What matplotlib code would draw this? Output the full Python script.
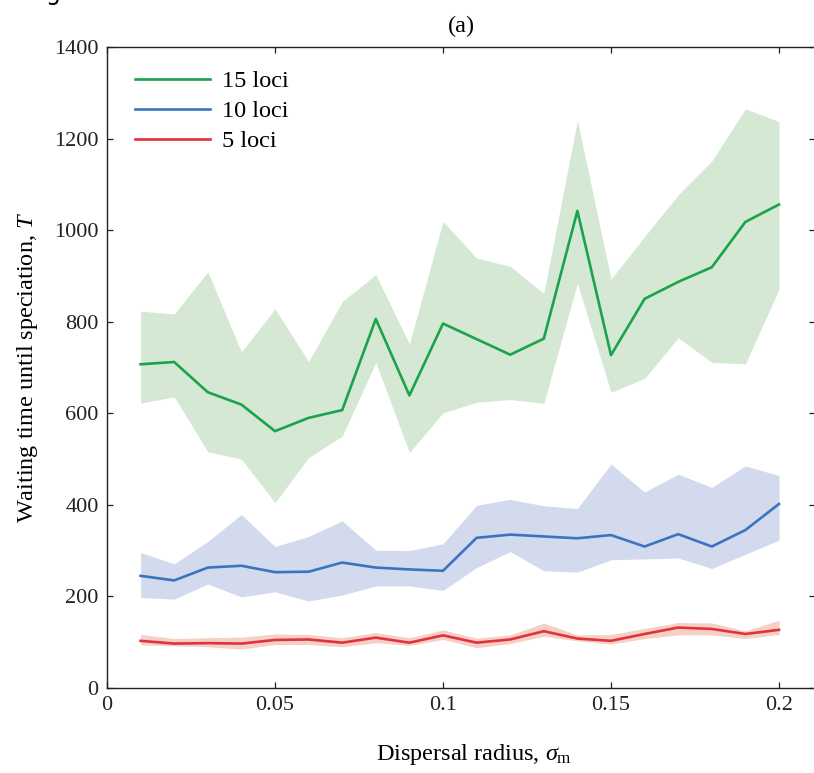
import matplotlib
matplotlib.use('Agg')
import matplotlib.pyplot as plt

plt.rcParams['font.family'] = ['Liberation Serif', 'DejaVu Serif']
plt.rcParams['mathtext.fontset'] = 'custom'
plt.rcParams['mathtext.rm'] = 'Liberation Serif'
plt.rcParams['mathtext.it'] = 'Liberation Serif:italic'

# dispersal radius values
sigma = [0.01, 0.02, 0.03, 0.04, 0.05, 0.06, 0.07, 0.08, 0.09, 0.10,
         0.11, 0.12, 0.13, 0.14, 0.15, 0.16, 0.17, 0.18, 0.19, 0.20]

# 15 loci
green_mean = [707, 712, 646, 619, 561, 590, 607, 806, 639, 796,
              762, 728, 763, 1042, 727, 850, 887, 919, 1018, 1056]
green_hi = [823, 817, 909, 734, 828, 713, 844, 903, 751, 1019,
            939, 921, 862, 1240, 893, 986, 1077, 1151, 1265, 1237]
green_lo = [622, 636, 516, 500, 405, 503, 550, 711, 514, 601,
            624, 630, 622, 884, 646, 676, 765, 711, 708, 871]

# 10 loci
blue_mean = [245, 235, 263, 267, 253, 254, 274, 263, 259, 256,
             328, 335, 331, 327, 334, 309, 336, 309, 345, 402]
blue_hi = [296, 271, 320, 379, 309, 331, 365, 301, 300, 315,
           399, 412, 398, 392, 489, 428, 467, 438, 485, 464]
blue_lo = [198, 194, 227, 199, 210, 190, 203, 223, 223, 213,
           263, 298, 256, 253, 280, 282, 284, 261, 292, 323]

# 5 loci
red_mean = [103, 97, 98, 97, 105, 106, 99, 110, 99, 115,
            99, 106, 124, 108, 103, 118, 132, 129, 118, 127]
red_hi = [117, 108, 110, 111, 118, 117, 110, 121, 110, 127,
          109, 116, 142, 116, 117, 130, 143, 142, 125, 148]
red_lo = [94, 92, 90, 85, 95, 95, 90, 99, 93, 106,
          88, 97, 113, 103, 96, 108, 116, 116, 108, 117]

xticks = [0, 0.05, 0.1, 0.15, 0.2]
xticklabels = ['0', '0.05', '0.1', '0.15', '0.2']
yticks = [0, 200, 400, 600, 800, 1000, 1200, 1400]

fig = plt.figure(figsize=(8.14, 7.73), dpi=100)
ax = fig.add_axes([107/814, 1 - 688/773, (815 - 107)/814, (688 - 47)/773])

ax.fill_between(sigma, green_lo, green_hi, color='#d5e8d4', lw=0)
ax.fill_between(sigma, blue_lo, blue_hi, color='#d3daed', lw=0)
ax.fill_between(sigma, red_lo, red_hi, color='#f6d0c6', lw=0)
ax.plot(sigma, green_mean, color='#1ba34b', lw=1.9, label='15 loci')
ax.plot(sigma, blue_mean, color='#3a74c0', lw=1.9, label='10 loci')
ax.plot(sigma, red_mean, color='#e0333a', lw=1.9, label='5 loci')

ax.set_xlim(0, (815 - 107) / 3360)
ax.set_ylim(0, 1400)
ax.set_xticks(xticks)
ax.set_xticklabels(xticklabels)
ax.set_yticks(yticks)
ax.tick_params(direction='in', length=4.5, width=0.9, top=True, right=True,
               labelsize=16, colors='#222222', pad=6)
for s in ax.spines.values():
    s.set_linewidth(1.0)
    s.set_color('#222222')

ax.set_ylabel('Waiting time until speciation, $T$', fontsize=17.5, labelpad=10)
ax.set_xlabel(r'Dispersal radius, $\sigma_{\mathrm{m}}$', fontsize=17.5)
ax.xaxis.set_label_coords((474 - 107) / (815 - 107), -0.085)
ax.text(0.5, 1 + 21 / 641, '(a)', fontsize=17.5, ha='center', va='center',
        transform=ax.transAxes)

ax.legend(loc='upper left', bbox_to_anchor=(0.008, 0.998), frameon=False,
          fontsize=17.5, handlelength=3.1, handletextpad=0.5, labelspacing=0.33)

# bottom of a cut-off heading above the panel
fig.text(46 / 814, 1.0, 'g', fontsize=17, family='DejaVu Sans', va='baseline')

fig.savefig('out.png', dpi=100)
